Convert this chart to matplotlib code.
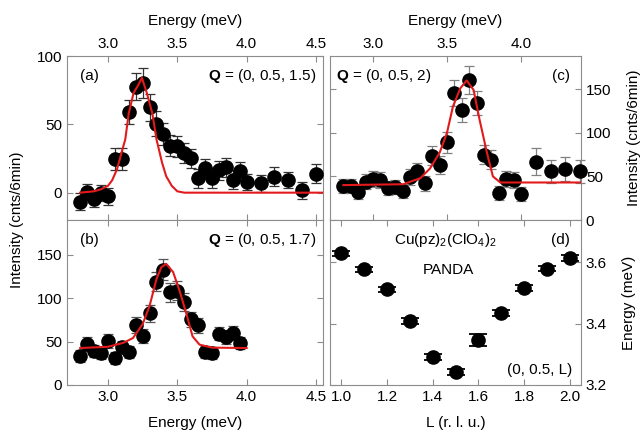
import matplotlib
matplotlib.use('Agg')
import matplotlib.pyplot as plt

plt.rcParams['font.family'] = ['Liberation Sans', 'DejaVu Sans']
plt.rcParams['mathtext.fontset'] = 'custom'
plt.rcParams['mathtext.rm'] = 'Liberation Sans'
plt.rcParams['mathtext.bf'] = 'Liberation Sans:bold'
plt.rcParams['font.size'] = 11

# panel (a): Q = (0, 0.5, 1.5)
e_a = [2.80, 2.85, 2.90, 2.95, 3.00, 3.05, 3.10, 3.15, 3.20, 3.25, 3.30, 3.35, 3.40, 3.45,
       3.50, 3.55, 3.60, 3.65, 3.70, 3.75, 3.80, 3.85, 3.90, 3.95, 4.00, 4.10, 4.20, 4.30,
       4.40, 4.50]
i_a = [-6.6, 0.5, -4.4, -0.2, -2.7, 24.8, 24.8, 59, 77.6, 80, 62.5, 50.4, 42.8, 34.5,
       33.8, 29, 25.3, 10.5, 18, 10.7, 16.3, 18.5, 9.5, 15.6, 8, 6.8, 11.7, 9.3, 1.7, 13.9]
err_a = [6, 6, 6, 6, 6, 8, 8, 9, 10, 11, 10, 9, 8, 8, 8, 7, 7, 7, 7, 7, 7, 7, 7, 7, 6,
         6, 7, 6, 6, 7]
fit_e_a = [2.80, 2.90, 2.95, 3.00, 3.03, 3.065, 3.10, 3.125, 3.15, 3.185, 3.22, 3.245,
           3.28, 3.32, 3.35, 3.39, 3.42, 3.46, 3.50, 3.55, 4.55]
fit_i_a = [0, 1, 2.5, 5, 9, 17, 30, 39, 58, 73, 79, 84, 73, 58, 39, 22, 12, 5, 1, 0, 0]

# panel (b): Q = (0, 0.5, 1.7)
e_b = [2.80, 2.85, 2.90, 2.95, 3.00, 3.05, 3.10, 3.15, 3.20, 3.25, 3.30, 3.35, 3.40, 3.45,
       3.50, 3.55, 3.60, 3.65, 3.70, 3.75, 3.80, 3.85, 3.90, 3.95]
i_b = [33, 47.7, 38.8, 36.8, 50.4, 31, 43.4, 37.6, 69, 56, 82.6, 119, 132.6, 106.6,
       108.5, 95.7, 75.6, 68.6, 37.6, 36.8, 59.3, 55, 60, 48.4]
err_b = [7, 8, 7, 7, 8, 7, 7, 7, 9, 8, 10, 11, 12, 11, 11, 10, 9, 9, 7, 7, 8, 8, 8, 7]
fit_e_b = [2.80, 3.00, 3.11, 3.18, 3.25, 3.30, 3.35, 3.385, 3.42, 3.47, 3.52, 3.57, 3.61,
           3.66, 3.75, 4.00]
fit_i_b = [42.6, 44, 48.5, 54, 70, 91, 122, 135.7, 139.5, 130, 106.6, 79.4, 56, 46.5, 43,
           42.6]

# panel (c): Q = (0, 0.5, 2)
e_c = [2.80, 2.85, 2.90, 2.95, 3.00, 3.05, 3.10, 3.15, 3.20, 3.25, 3.30, 3.35, 3.40, 3.45,
       3.50, 3.55, 3.60, 3.65, 3.70, 3.75, 3.80, 3.85, 3.90, 3.95, 4.00, 4.10, 4.20, 4.30,
       4.40]
i_c = [39.4, 39.4, 31.8, 44, 47, 46, 37, 38.3, 33.7, 49, 55.6, 42, 73.6, 63, 89, 146, 126,
       161, 134, 74.7, 69, 31.4, 47, 46, 29.5, 67, 55.6, 58.6, 55.6]
err_c = [8, 8, 8, 9, 9, 9, 8, 8, 8, 9, 10, 9, 11, 10, 12, 15, 14, 16, 14, 11, 11, 8, 9, 9,
         8, 15, 13, 14, 13]
fit_e_c = [2.80, 3.205, 3.32, 3.385, 3.45, 3.50, 3.54, 3.59, 3.633, 3.68, 3.72, 3.77, 3.81,
           3.86, 4.40]
fit_i_c = [40, 41, 48, 59, 77, 100, 130, 151, 160, 149, 115, 77, 50, 43, 43]

# panel (d): dispersion along (0, 0.5, L)
l_d = [1.0, 1.1, 1.2, 1.3, 1.4, 1.5, 1.6, 1.7, 1.8, 1.9, 2.0]
en_d = [3.628, 3.576, 3.511, 3.408, 3.292, 3.243, 3.346, 3.433, 3.516, 3.579, 3.614]
err_d = [0.008, 0.008, 0.008, 0.01, 0.01, 0.01, 0.02, 0.01, 0.01, 0.008, 0.01]

W, H = 642, 437
fig = plt.figure(figsize=(W / 100, H / 100), dpi=100)


def box(x0, y0, x1, y1):
    return [x0 / W, 1 - y1 / H, (x1 - x0) / W, (y1 - y0) / H]


ax_a = fig.add_axes(box(67, 56, 323, 220))
ax_b = fig.add_axes(box(67, 220, 323, 385))
ax_c = fig.add_axes(box(330, 56, 581, 220))
ax_d = fig.add_axes(box(330, 220, 581, 385))

red = '#e31a1c'
mk = dict(fmt='o', color='black', ms=9.5, capsize=3.5, elinewidth=0.9, capthick=0.9,
          clip_on=False, zorder=3)

for ax in [ax_a, ax_b, ax_c, ax_d]:
    for s in ax.spines.values():
        s.set_color('#8c8c8c')
    ax.tick_params(direction='in', top=True, bottom=True, left=True, right=True,
                   color='#8c8c8c', labelsize=11, length=4)

ax_a.errorbar(e_a, i_a, yerr=err_a, ecolor='#333333', **mk)
ax_a.plot(fit_e_a, fit_i_a, color=red, lw=1.5, zorder=4)
ax_a.set_xlim(2.705, 4.55)
ax_a.set_ylim(-20, 100)
ax_a.set_yticks([0, 50, 100])
ax_a.set_xticks([3.0, 3.5, 4.0, 4.5])
ax_a.set_xticklabels(['3.0', '3.5', '4.0', '4.5'])
ax_a.tick_params(labeltop=True, labelbottom=False)
ax_a.xaxis.set_label_position('top')
ax_a.set_xlabel('Energy (meV)', fontsize=11, labelpad=9)
ax_a.text(0.05, 0.88, '(a)', transform=ax_a.transAxes, va='center', fontsize=11)
ax_a.text(0.975, 0.88, r'$\mathbf{Q}$ = (0, 0.5, 1.5)', transform=ax_a.transAxes,
          va='center', ha='right', fontsize=11)

ax_b.errorbar(e_b, i_b, yerr=err_b, ecolor='#555555', **mk)
ax_b.plot(fit_e_b, fit_i_b, color=red, lw=1.5, zorder=4)
ax_b.set_xlim(2.705, 4.55)
ax_b.set_ylim(0, 190)
ax_b.set_yticks([0, 50, 100, 150])
ax_b.set_xticks([3.0, 3.5, 4.0, 4.5])
ax_b.set_xticklabels(['3.0', '3.5', '4.0', '4.5'])
ax_b.set_xlabel('Energy (meV)', fontsize=11, labelpad=9)
ax_b.text(0.05, 0.88, '(b)', transform=ax_b.transAxes, va='center', fontsize=11)
ax_b.text(0.975, 0.88, r'$\mathbf{Q}$ = (0, 0.5, 1.7)', transform=ax_b.transAxes,
          va='center', ha='right', fontsize=11)

ax_c.errorbar(e_c, i_c, yerr=err_c, ecolor='#808080', **mk)
ax_c.plot(fit_e_c, fit_i_c, color=red, lw=1.5, zorder=4)
ax_c.set_xlim(2.71, 4.405)
ax_c.set_ylim(0, 188)
ax_c.set_yticks([0, 50, 100, 150])
ax_c.set_xticks([3.0, 3.5, 4.0])
ax_c.set_xticklabels(['3.0', '3.5', '4.0'])
ax_c.tick_params(labeltop=True, labelbottom=False, labelleft=False, labelright=True)
ax_c.xaxis.set_label_position('top')
ax_c.yaxis.set_label_position('right')
ax_c.set_xlabel('Energy (meV)', fontsize=11, labelpad=9)
ax_c.set_ylabel('Intensity (cnts/6min)', fontsize=11, labelpad=11)
ax_c.text(0.024, 0.88, r'$\mathbf{Q}$ = (0, 0.5, 2)', transform=ax_c.transAxes,
          va='center', fontsize=11)
ax_c.text(0.955, 0.88, '(c)', transform=ax_c.transAxes, va='center', ha='right',
          fontsize=11)

ax_d.errorbar(l_d, en_d, yerr=err_d, ecolor='black', **dict(mk, capsize=6.5, capthick=1.3))
ax_d.set_xlim(0.95, 2.05)
ax_d.set_ylim(3.2, 3.737)
ax_d.set_yticks([3.2, 3.4, 3.6])
ax_d.set_yticklabels(['3.2', '3.4', '3.6'])
ax_d.set_xticks([1.0, 1.2, 1.4, 1.6, 1.8, 2.0])
ax_d.set_xticklabels(['1.0', '1.2', '1.4', '1.6', '1.8', '2.0'])
ax_d.tick_params(labelleft=False, labelright=True)
ax_d.yaxis.set_label_position('right')
ax_d.set_xlabel('L (r. l. u.)', fontsize=11, labelpad=9)
ax_d.set_ylabel('Energy (meV)', fontsize=11, labelpad=11)
ax_d.text(0.46, 0.88, r'Cu(pz)$_2$(ClO$_4$)$_2$', transform=ax_d.transAxes,
          va='center', ha='center', fontsize=11)
ax_d.text(0.47, 0.70, 'PANDA', transform=ax_d.transAxes, va='center', ha='center',
          fontsize=11)
ax_d.text(0.955, 0.88, '(d)', transform=ax_d.transAxes, va='center', ha='right',
          fontsize=11)
ax_d.text(0.965, 0.09, '(0, 0.5, L)', transform=ax_d.transAxes, va='center', ha='right',
          fontsize=11)

fig.text(17 / W, 1 - 220 / H, 'Intensity (cnts/6min)', rotation=90, va='center',
         ha='center', fontsize=11)

fig.savefig('out.png', dpi=100)
